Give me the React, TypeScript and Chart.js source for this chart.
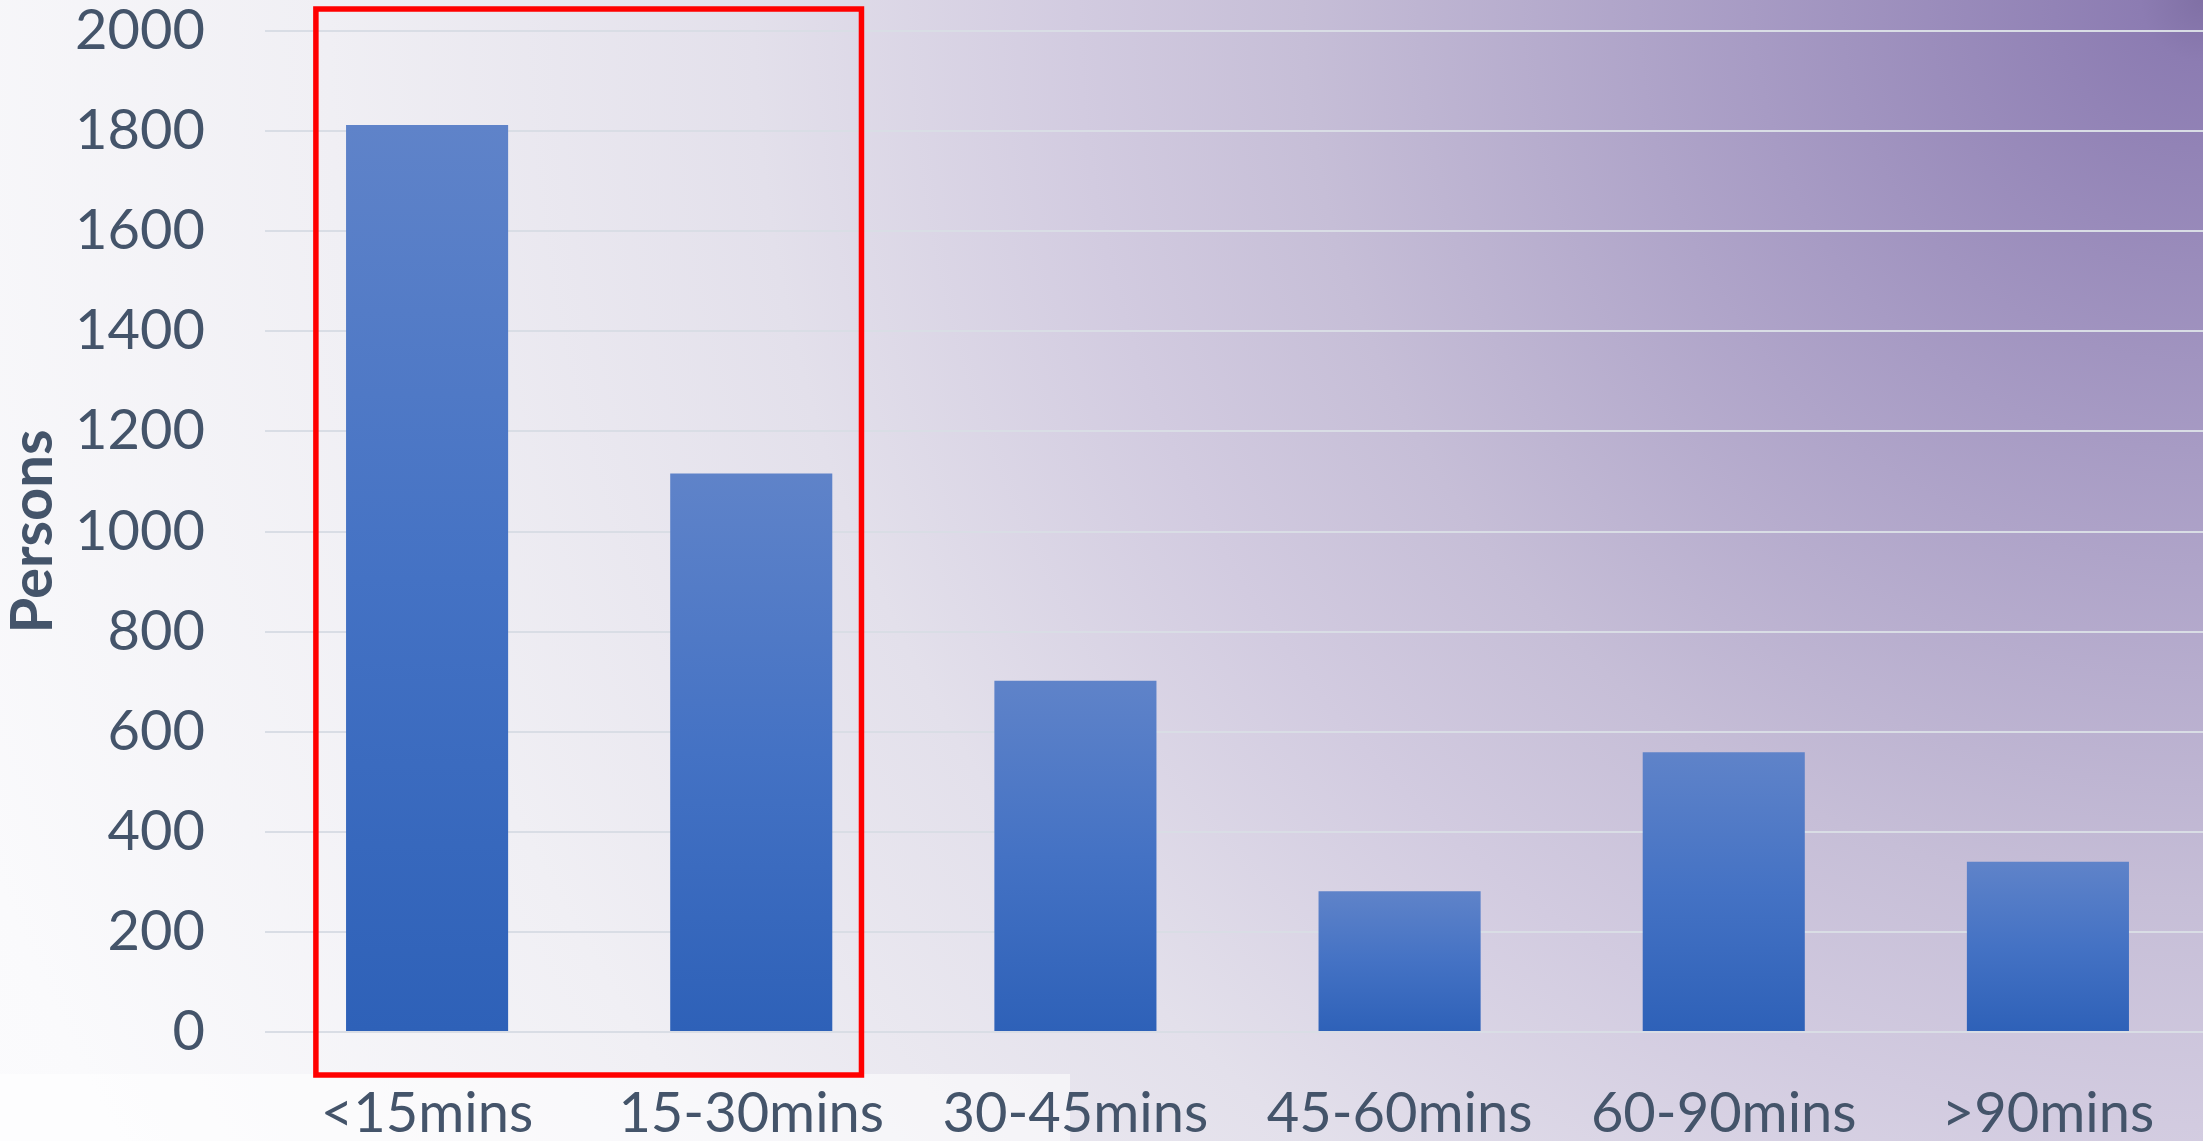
import React, { useEffect, useRef } from "react";
import { Chart, registerables } from "chart.js";

Chart.register(...registerables);

// Commute duration buckets and the number of persons in each
const categories = ["<15mins", "15-30mins", "30-45mins", "45-60mins", "60-90mins", ">90mins"];
const persons = [1812, 1116, 702, 281, 559, 340];

// Y-axis range
const yMin = 0;
const yMax = 2000;
const yStep = 200;

const TEXT = "#44546A";
const FONT = "Lato, 'Open Sans', sans-serif";

const W = 2203;
const H = 1141;
const CANVAS_W = 2210;

const backgroundPlugin = {
  id: "slideBackground",
  beforeDraw(chart: any) {
    const { ctx } = chart;
    ctx.save();
    const g = ctx.createRadialGradient(W, 0, 0, W, 0, 2500);
    g.addColorStop(0, "#8070A5");
    g.addColorStop(0.025, "#8C7CB2");
    g.addColorStop(0.18, "#A79BC4");
    g.addColorStop(0.36, "#C6BED7");
    g.addColorStop(0.45, "#D2CBE0");
    g.addColorStop(0.58, "#E3E0EB");
    g.addColorStop(0.75, "#F0EFF4");
    g.addColorStop(0.95, "#FAFAFC");
    g.addColorStop(1, "#FBFBFD");
    ctx.fillStyle = g;
    ctx.fillRect(0, 0, chart.width, chart.height);
    // pale panel behind the left category labels
    ctx.fillStyle = "rgba(255,255,255,0.55)";
    ctx.fillRect(0, 1074, 1070, H - 1074);
    ctx.restore();
  },
};

const highlightPlugin = {
  id: "highlightBox",
  afterDraw(chart: any) {
    const { ctx, chartArea } = chart;
    const xs = chart.scales.x;
    const cw = (xs.right - xs.left) / categories.length;
    const left = xs.getPixelForValue(0) - 0.343 * cw;
    const right = xs.getPixelForValue(1) + 0.34 * cw;
    const top = chartArea.top - 22;
    const bottom = chartArea.bottom + 43;
    ctx.save();
    ctx.strokeStyle = "#FF0000";
    ctx.lineWidth = 5.5;
    ctx.strokeRect(left, top, right - left, bottom - top);
    ctx.restore();
  },
};

export default function App() {
  const ref = useRef<HTMLCanvasElement | null>(null);

  useEffect(() => {
    if (!ref.current) return;
    const chart = new Chart(ref.current, {
      type: "bar",
      data: {
        labels: categories,
        datasets: [
          {
            label: "Persons",
            data: persons,
            categoryPercentage: 1,
            barPercentage: 0.5,
            borderWidth: 0,
            backgroundColor: (c: any) => {
              const ch = c.chart;
              const ys = ch.scales && ch.scales.y;
              if (!ys || !ch.chartArea || c.type !== "data") return "#4472C4";
              const v = c.parsed ? c.parsed.y : persons[c.dataIndex];
              const top = ys.getPixelForValue(v);
              const base = ys.getPixelForValue(0);
              const g = ch.ctx.createLinearGradient(0, top, 0, base);
              g.addColorStop(0, "#5F83C9");
              g.addColorStop(0.5, "#4472C4");
              g.addColorStop(1, "#2E61B8");
              return g;
            },
          },
        ],
      },
      options: {
        animation: false,
        responsive: false,
        maintainAspectRatio: false,
        layout: { padding: { top: 31, left: 0, right: 0, bottom: 0 } },
        plugins: {
          legend: { display: false },
          tooltip: { enabled: false },
        },
        scales: {
          x: {
            grid: { display: false, drawTicks: false },
            border: { display: false },
            ticks: {
              color: TEXT,
              font: { family: FONT, size: 56, lineHeight: 1 },
              padding: 54,
              maxRotation: 0,
              autoSkip: false,
            },
            afterFit: (s: any) => {
              s.height = H - 1032;
            },
          },
          y: {
            min: yMin,
            max: yMax,
            grid: { color: "#D9DDE5", lineWidth: 2, drawTicks: false },
            border: { display: false },
            ticks: {
              stepSize: yStep,
              color: TEXT,
              font: { family: FONT, size: 56, lineHeight: 1 },
              padding: 60,
              callback: (v: any) => String(v),
            },
            title: {
              display: true,
              text: "Persons",
              color: TEXT,
              font: { family: FONT, size: 58, weight: "bold", lineHeight: 1 },
              padding: { top: 4, bottom: 0 },
            },
            afterFit: (s: any) => {
              s.width = 265;
              s.paddingTop = 0;
              s.paddingBottom = 0;
            },
          },
        },
      },
      plugins: [backgroundPlugin, highlightPlugin],
    });
    return () => chart.destroy();
  }, []);

  return (
    <div
      style={{
        position: "fixed",
        left: 0,
        top: 0,
        width: W,
        height: H,
        overflow: "hidden",
      }}
    >
      <canvas
        ref={ref}
        width={CANVAS_W}
        height={H}
        style={{ display: "block", width: CANVAS_W + "px", height: H + "px" }}
      />
    </div>
  );
}
